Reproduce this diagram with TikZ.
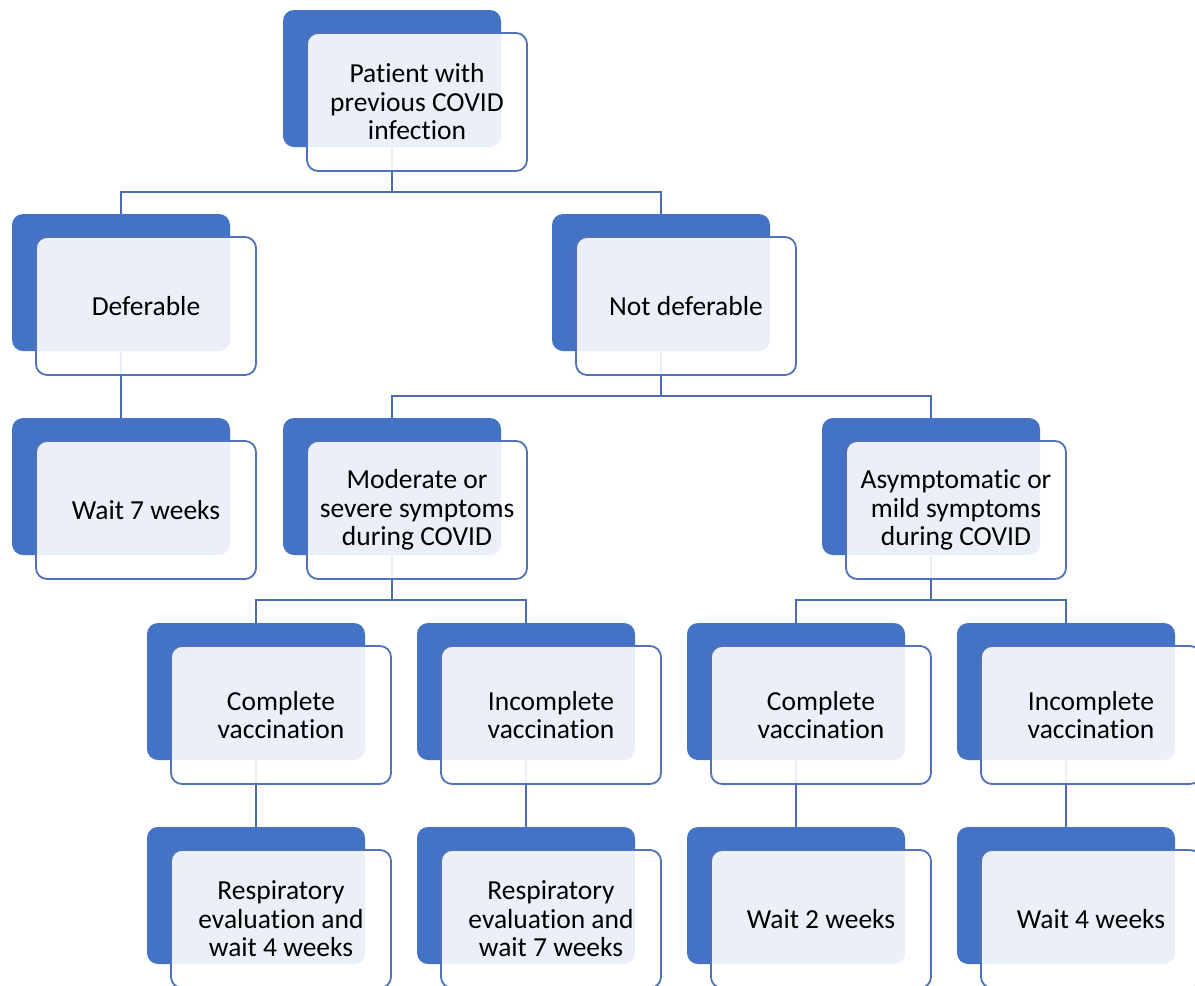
\documentclass[tikz,border=0pt]{standalone}
\usepackage{fontspec}
\setmainfont{Carlito}[Ligatures=NoCommon]
\definecolor{bl}{HTML}{4472C4}
\definecolor{blline}{HTML}{4F72B8}
\definecolor{blconn}{HTML}{4A6CB0}
\pgfdeclarelayer{paper}
\pgfdeclarelayer{bg}
\pgfsetlayers{paper,bg,main}
\newcommand\cbox[4]{%
  \node[backbox] (#1b) at (#2+109,#3+68.5) {};
  \node[frontbox] (#1) at (#2+134,#3+92) {#4};}
\begin{document}
\begin{tikzpicture}[x=1pt,y=-1pt,
  backbox/.style={fill=bl, draw=none, rounded corners=11pt, minimum width=218pt, minimum height=137pt, inner sep=0pt},
  frontbox/.style={fill=white, fill opacity=0.89, text opacity=1, draw=blline, draw opacity=1, line width=1.8pt, rounded corners=11pt, minimum width=220pt, minimum height=138pt, inner sep=0pt, align=center, font=\fontsize{27.5}{28.5}\selectfont, text=black},
  conn/.style={draw=blconn, line width=2pt}]
\useasboundingbox (0,0) rectangle (1195,986);
\clip (0,0) rectangle (1195,986);
\begin{pgfonlayer}{paper}
\fill[white] (0,0) rectangle (1195,986);
\end{pgfonlayer}
% row 1
\cbox{p}{283}{10}{Patient with\\previous COVID\\infection}
% row 2
\cbox{def}{12}{214}{Deferable}
\cbox{nd}{552}{214}{Not deferable}
% row 3
\cbox{wseven}{12}{418}{Wait 7 weeks}
\cbox{mod}{283}{418}{Moderate or\\severe symptoms\\during COVID}
\cbox{asy}{822}{418}{Asymptomatic or\\mild symptoms\\during COVID}
% row 4
\cbox{ca}{147}{623}{Complete\\vaccination}
\cbox{ia}{417}{623}{Incomplete\\vaccination}
\cbox{cb}{687}{623}{Complete\\vaccination}
\cbox{ib}{957}{623}{Incomplete\\vaccination}
% row 5
\cbox{ra}{147}{827}{Respiratory\\evaluation and\\wait 4 weeks}
\cbox{rb}{417}{827}{Respiratory\\evaluation and\\wait 7 weeks}
\cbox{wtwo}{687}{827}{Wait 2 weeks}
\cbox{wfour}{957}{827}{Wait 4 weeks}
\begin{pgfonlayer}{bg}
\draw[conn] (pb.south) -- ++(0,45) -| (defb.north);
\draw[conn] (pb.south) -- ++(0,45) -| (ndb.north);
\draw[conn] (defb.south) -- (wsevenb.north);
\draw[conn] (ndb.south) -- ++(0,45) -| (modb.north);
\draw[conn] (ndb.south) -- ++(0,45) -| (asyb.north);
\draw[conn] (modb.south) -- ++(0,45) -| (cab.north);
\draw[conn] (modb.south) -- ++(0,45) -| (iab.north);
\draw[conn] (asyb.south) -- ++(0,45) -| (cbb.north);
\draw[conn] (asyb.south) -- ++(0,45) -| (ibb.north);
\draw[conn] (cab.south) -- (rab.north);
\draw[conn] (iab.south) -- (rbb.north);
\draw[conn] (cbb.south) -- (wtwob.north);
\draw[conn] (ibb.south) -- (wfourb.north);
\end{pgfonlayer}
\end{tikzpicture}
\end{document}
